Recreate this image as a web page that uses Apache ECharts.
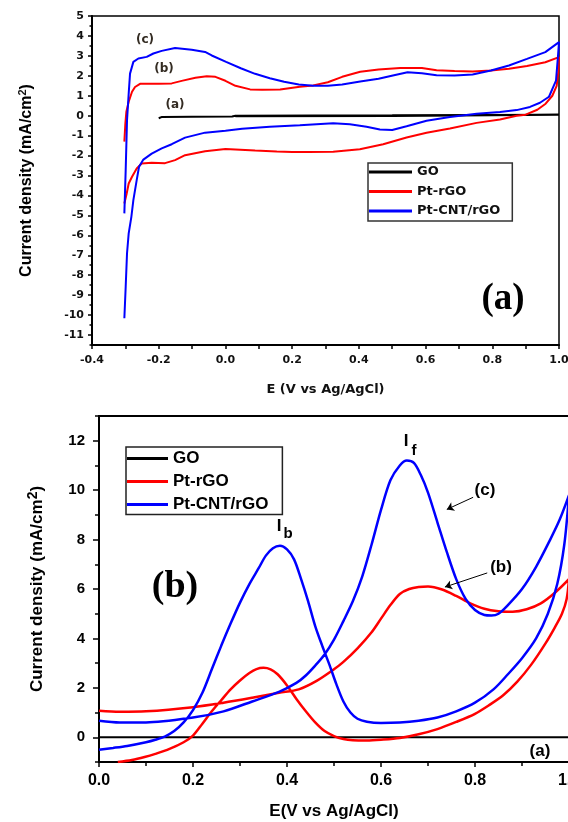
<!DOCTYPE html>
<html>
<head>
<meta charset="utf-8">
<title>CV Pt-rGO / Pt-CNT/rGO</title>
<script src="https://cdn.jsdelivr.net/npm/echarts@6/dist/echarts.min.js"></script>
<style>
  body{margin:0;background:#fff;}
  #chart{width:568px;height:822px;}
</style>
</head>
<body>
<div id="chart"></div>
<script type="text/javascript">
// ---- panel (a): CV in H2SO4, [E, j] pairs ----
var aGO = [[-0.2,-0.13],[-0.19,-0.06],[-0.1,-0.05],[0.02,-0.04],[0.03,0.0],[0.5,0.02],[1.0,0.05],[1.0,0.0],[0.5,-0.02],[0.03,-0.03]];
var aRgoUp = [[-0.303,-1.3],[-0.3,-0.4],[-0.297,0.2],[-0.29,0.7],[-0.28,1.2],[-0.271,1.44],[-0.256,1.6],[-0.237,1.6],[-0.2,1.6],[-0.161,1.62],[-0.128,1.76],[-0.09,1.9],[-0.056,1.98],[-0.03,1.95],[0.0,1.75],[0.03,1.5],[0.074,1.32],[0.11,1.3],[0.164,1.31],[0.223,1.45],[0.263,1.52],[0.307,1.68],[0.35,1.95],[0.404,2.2],[0.459,2.32],[0.524,2.39],[0.589,2.39],[0.633,2.28],[0.687,2.24],[0.741,2.22],[0.796,2.27],[0.85,2.35],[0.904,2.49],[0.959,2.68],[1.0,2.94]];
var aRgoDown = [[1.0,2.94],[0.998,2.2],[0.993,1.5],[0.98,1.0],[0.96,0.6],[0.935,0.3],[0.9,0.05],[0.873,0.0],[0.823,-0.19],[0.753,-0.36],[0.673,-0.64],[0.603,-0.86],[0.543,-1.09],[0.473,-1.43],[0.403,-1.68],[0.323,-1.81],[0.25,-1.82],[0.2,-1.82],[0.154,-1.8],[0.089,-1.75],[0.0,-1.67],[-0.061,-1.78],[-0.121,-1.98],[-0.151,-2.23],[-0.181,-2.38],[-0.221,-2.36],[-0.251,-2.4],[-0.266,-2.65],[-0.28,-3.06],[-0.29,-3.4],[-0.296,-3.9],[-0.303,-4.4]];
var aCntUp = [[-0.303,-4.9],[-0.299,-2.73],[-0.295,-0.23],[-0.29,1.11],[-0.286,2.11],[-0.276,2.7],[-0.261,2.87],[-0.236,2.95],[-0.216,3.12],[-0.191,3.25],[-0.151,3.4],[-0.101,3.31],[-0.061,3.2],[-0.041,3.02],[0.002,2.7],[0.046,2.38],[0.089,2.1],[0.133,1.88],[0.176,1.7],[0.22,1.57],[0.263,1.5],[0.307,1.5],[0.35,1.56],[0.404,1.71],[0.459,1.85],[0.502,2.02],[0.546,2.18],[0.589,2.13],[0.633,2.03],[0.687,2.02],[0.741,2.07],[0.796,2.27],[0.85,2.52],[0.904,2.85],[0.959,3.19],[1.0,3.69]];
var aCntDown = [[1.0,3.69],[0.997,3.0],[0.991,1.76],[0.97,0.95],[0.943,0.65],[0.913,0.44],[0.873,0.28],[0.823,0.19],[0.753,0.1],[0.673,-0.06],[0.603,-0.25],[0.543,-0.53],[0.5,-0.72],[0.463,-0.69],[0.423,-0.55],[0.373,-0.43],[0.323,-0.38],[0.273,-0.43],[0.223,-0.48],[0.133,-0.55],[0.05,-0.65],[0.0,-0.75],[-0.061,-0.85],[-0.121,-1.1],[-0.161,-1.43],[-0.191,-1.64],[-0.221,-1.9],[-0.246,-2.2],[-0.259,-2.56],[-0.266,-3.23],[-0.276,-4.23],[-0.282,-5.07],[-0.29,-5.9],[-0.295,-6.9],[-0.299,-8.58],[-0.303,-10.16]];
var aYTicks = [-11,-10,-9,-8,-7,-6,-5,-4,-3,-2,-1,0,1,2,3,4,5];
var aYMinor = [-11.5,-10.5,-9.5,-8.5,-7.5,-6.5,-5.5,-4.5,-3.5,-2.5,-1.5,-0.5,0.5,1.5,2.5,3.5,4.5];

// ---- panel (b): methanol oxidation ----
var bGO = [[0,0],[1,0]];
var bRgoFwd = [[0,1.07],[0.044,1.03],[0.1,1.05],[0.2,1.22],[0.265,1.4],[0.326,1.6],[0.383,1.8],[0.425,1.94],[0.463,2.28],[0.5,2.75],[0.52,3.05],[0.55,3.6],[0.58,4.25],[0.6,4.8],[0.62,5.35],[0.64,5.8],[0.66,6.0],[0.68,6.08],[0.7,6.1],[0.73,5.98],[0.76,5.72],[0.79,5.42],[0.82,5.2],[0.85,5.1],[0.88,5.08],[0.91,5.18],[0.94,5.42],[0.97,5.85],[1.0,6.4]];
var bRgoRev = [[1.0,6.4],[0.995,5.6],[0.985,5.0],[0.97,4.45],[0.95,3.8],[0.92,2.95],[0.89,2.25],[0.86,1.7],[0.83,1.3],[0.8,0.95],[0.76,0.62],[0.72,0.33],[0.68,0.12],[0.64,-0.03],[0.6,-0.1],[0.57,-0.13],[0.54,-0.12],[0.52,-0.07],[0.5,0.05],[0.48,0.25],[0.46,0.6],[0.44,1.05],[0.42,1.55],[0.4,2.1],[0.38,2.55],[0.365,2.75],[0.35,2.81],[0.335,2.76],[0.32,2.6],[0.3,2.3],[0.28,1.94],[0.26,1.5],[0.24,1.05],[0.22,0.55],[0.2,0.07],[0.18,-0.2],[0.15,-0.47],[0.12,-0.67],[0.097,-0.8],[0.07,-0.92],[0.04,-1.0]];
var bCntFwd = [[0,0.67],[0.044,0.6],[0.1,0.6],[0.2,0.8],[0.265,1.05],[0.326,1.45],[0.383,1.84],[0.42,2.2],[0.44,2.5],[0.46,2.9],[0.48,3.35],[0.5,3.95],[0.52,4.7],[0.54,5.5],[0.56,6.5],[0.58,7.8],[0.6,9.2],[0.62,10.4],[0.64,11.0],[0.655,11.2],[0.67,11.1],[0.685,10.6],[0.7,9.9],[0.72,8.7],[0.74,7.5],[0.76,6.4],[0.78,5.6],[0.8,5.15],[0.82,4.95],[0.835,4.93],[0.85,5.0],[0.87,5.35],[0.9,6.0],[0.93,6.9],[0.96,8.0],[0.98,8.8],[1.0,9.8]];
var bCntRev = [[1.0,9.8],[0.99,7.8],[0.975,6.2],[0.955,5.0],[0.93,4.0],[0.9,3.2],[0.87,2.55],[0.84,1.95],[0.8,1.4],[0.76,1.05],[0.72,0.8],[0.68,0.67],[0.64,0.6],[0.6,0.58],[0.57,0.63],[0.55,0.75],[0.535,1.0],[0.52,1.45],[0.505,2.15],[0.49,2.95],[0.475,3.7],[0.46,4.5],[0.445,5.5],[0.43,6.4],[0.415,7.2],[0.4,7.6],[0.385,7.75],[0.37,7.65],[0.355,7.35],[0.34,6.85],[0.32,6.2],[0.3,5.45],[0.28,4.6],[0.26,3.7],[0.24,2.75],[0.22,1.8],[0.2,1.1],[0.18,0.6],[0.16,0.25],[0.14,0.03],[0.12,-0.1],[0.1,-0.2],[0.06,-0.35],[0.03,-0.43],[0,-0.5]];
var bYTicks = [0,2,4,6,8,10,12];
var bYMinor = [-1,1,3,5,7,9,11,13];
var bArrows = [[[0.796,9.71],[0.74,9.22]],[[0.826,6.65],[0.736,6.08]]];

var names = ['GO','Pt-rGO','Pt-CNT/rGO'];
var colors = ['#000000','#ff0000','#0000ff'];

var chart = echarts.init(document.getElementById('chart'));

var axisLine = {show:true, onZero:false, lineStyle:{color:'#000', width:2}};
var noLine = {show:false, onZero:false};
var tickStyle = {color:'#000', width:1.5};
var fontA = {fontFamily:'DejaVu Sans', fontWeight:'bold', color:'#111'};
var fontB = {fontFamily:'Liberation Sans', fontWeight:'bold', color:'#000'};

function line(name, data, xi, w, smooth) {
    var c = colors[names.indexOf(name)];
    return {type:'line', name:name, xAxisIndex:xi, yAxisIndex:xi * 2, data:data, symbol:'none',
        smooth:smooth, lineStyle:{color:c, width:w}, itemStyle:{color:c}, silent:true};
}

var series = [
    line('GO', aGO, 0, 2, false),
    line('Pt-rGO', aRgoUp.concat(aRgoDown), 0, 2, false),
    line('Pt-CNT/rGO', aCntUp.concat(aCntDown), 0, 2, false),
    line('GO', bGO, 1, 2, false),
    line('Pt-rGO', bRgoFwd.concat(bRgoRev), 1, 2.5, 0.3),
    line('Pt-CNT/rGO', bCntFwd.concat(bCntRev), 1, 2.5, 0.3)
];
// arrows pointing at curves (b) and (c)
series[3].markLine = {
    silent:true, symbol:['none','arrow'], symbolSize:7,
    label:{show:false}, lineStyle:{color:'#000', width:1, type:'solid'},
    data: bArrows.map(function (a) { return [{coord:a[0]}, {coord:a[1]}]; })
};

var option = {
    animation:false,
    grid:[
        {left:92, top:16, width:467, height:329, show:true, borderColor:'#000', borderWidth:1.5, outerBoundsMode:'none'},
        {left:99, top:416, width:470, height:346, show:true, borderColor:'#000', borderWidth:2, outerBoundsMode:'none'}
    ],
    xAxis:[
        {gridIndex:0, type:'value', min:-0.4, max:1.0, interval:0.2,
            axisLine:axisLine, axisTick:{length:4, lineStyle:tickStyle},
            minorTick:{show:true, splitNumber:2, length:4, lineStyle:tickStyle},
            axisLabel:Object.assign({fontSize:11, margin:10, formatter:function (v) { return v.toFixed(1); }}, fontA),
            splitLine:{show:false},
            name:'E (V vs Ag/AgCl)', nameLocation:'middle', nameGap:38,
            nameTextStyle:Object.assign({fontSize:13}, fontA)},
        {gridIndex:1, type:'value', min:0, max:1.0, interval:0.2,
            axisLine:axisLine, axisTick:{length:5, lineStyle:tickStyle},
            minorTick:{show:true, splitNumber:2, length:4, lineStyle:tickStyle},
            axisLabel:Object.assign({fontSize:16, margin:11, formatter:function (v) { return v.toFixed(1); }}, fontB),
            splitLine:{show:false},
            name:'E(V vs Ag/AgCl)', nameLocation:'middle', nameGap:41,
            nameTextStyle:Object.assign({fontSize:17}, fontB)}
    ],
    yAxis:[
        {gridIndex:0, type:'value', position:'left', min:-11.5, max:5,
            axisLine:axisLine, axisTick:{length:4, customValues:aYTicks, lineStyle:tickStyle},
            axisLabel:Object.assign({fontSize:11, margin:8, customValues:aYTicks}, fontA),
            splitLine:{show:false},
            name:'Current density (mA/cm{s|2})', nameLocation:'middle', nameRotate:90, nameGap:55,
            nameTextStyle:Object.assign({fontSize:16, lineHeight:20,
                rich:{s:{fontSize:11, lineHeight:12, verticalAlign:'top', fontFamily:'Liberation Sans', fontWeight:'bold', color:'#111'}}},
                fontB)},
        {gridIndex:0, type:'value', position:'left', min:-11.5, max:5,
            axisLine:noLine, axisTick:{length:2.5, customValues:aYMinor, lineStyle:tickStyle},
            axisLabel:{show:false}, splitLine:{show:false}},
        {gridIndex:1, type:'value', position:'left', min:-1, max:13,
            axisLine:axisLine, axisTick:{length:6, customValues:bYTicks, lineStyle:tickStyle},
            axisLabel:Object.assign({fontSize:15, margin:14, customValues:bYTicks}, fontB),
            splitLine:{show:false},
            name:'Current density (mA/cm{s|2})', nameLocation:'middle', nameRotate:90, nameGap:51,
            nameTextStyle:Object.assign({fontSize:17, lineHeight:22,
                rich:{s:{fontSize:14, lineHeight:14, verticalAlign:'top', fontFamily:'Liberation Sans', fontWeight:'bold', color:'#000'}}},
                fontB)},
        {gridIndex:1, type:'value', position:'left', min:-1, max:13,
            axisLine:noLine, axisTick:{length:4, customValues:bYMinor, lineStyle:tickStyle},
            axisLabel:{show:false}, splitLine:{show:false}}
    ],
    legend:[
        {left:368, top:163, orient:'vertical', data:names, icon:'rect', itemWidth:43, itemHeight:3,
            itemGap:5.5, padding:[2,12,3,1], borderColor:'#333', borderWidth:1.5, backgroundColor:'#fff',
            selectedMode:false, textStyle:Object.assign({fontSize:13, lineHeight:14}, fontA)},
        {left:126, top:447, orient:'vertical', data:names, icon:'rect', itemWidth:41, itemHeight:3,
            itemGap:6, padding:[3,14,1.5,1], borderColor:'#222', borderWidth:1.5, backgroundColor:'#fff',
            selectedMode:false, textStyle:Object.assign({fontSize:17, lineHeight:17}, fontB)}
    ],
    graphic:[
        {type:'text', style:{text:'(c)', x:145, y:40, align:'center', verticalAlign:'middle', font:'bold 12px "DejaVu Sans"', fill:'#332b22'}},
        {type:'text', style:{text:'(b)', x:164, y:69, align:'center', verticalAlign:'middle', font:'bold 12px "DejaVu Sans"', fill:'#332b22'}},
        {type:'text', style:{text:'(a)', x:175, y:105, align:'center', verticalAlign:'middle', font:'bold 12px "DejaVu Sans"', fill:'#332b22'}},
        {type:'text', style:{text:'(a)', x:503, y:299, align:'center', verticalAlign:'middle', font:'bold 37px "Liberation Serif"', fill:'#000'}},
        {type:'text', style:{text:'(b)', x:175, y:587, align:'center', verticalAlign:'middle', font:'bold 38px "Liberation Serif"', fill:'#000'}},
        {type:'text', style:{text:'I', x:406, y:441, align:'center', verticalAlign:'middle', font:'bold 17px "Liberation Sans"', fill:'#000'}},
        {type:'text', style:{text:'f', x:414, y:451, align:'center', verticalAlign:'middle', font:'bold 15px "Liberation Sans"', fill:'#000'}},
        {type:'text', style:{text:'I', x:279, y:526, align:'center', verticalAlign:'middle', font:'bold 17px "Liberation Sans"', fill:'#000'}},
        {type:'text', style:{text:'b', x:288, y:534, align:'center', verticalAlign:'middle', font:'bold 15px "Liberation Sans"', fill:'#000'}},
        {type:'text', style:{text:'(c)', x:485, y:490, align:'center', verticalAlign:'middle', font:'bold 17px "Liberation Sans"', fill:'#000'}},
        {type:'text', style:{text:'(b)', x:501, y:567, align:'center', verticalAlign:'middle', font:'bold 17px "Liberation Sans"', fill:'#000'}},
        {type:'text', style:{text:'(a)', x:540, y:751, align:'center', verticalAlign:'middle', font:'bold 17px "Liberation Sans"', fill:'#000'}}
    ],
    series:series
};

chart.setOption(option);
</script>
</body>
</html>
